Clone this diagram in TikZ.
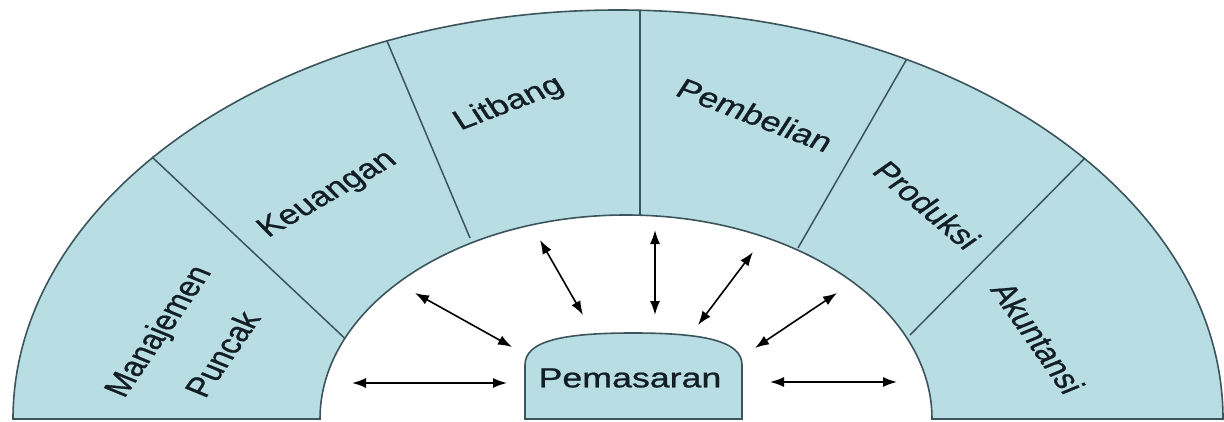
\documentclass[tikz,border=0pt]{standalone}
\usepackage{fontspec}
\setmainfont{Liberation Sans}
\newfontfamily\lblfont[FakeBold=0.8]{Liberation Sans}
\usetikzlibrary{arrows.meta}
\definecolor{ringfill}{RGB}{184,222,228}
\definecolor{ringline}{RGB}{60,85,92}
\definecolor{txt}{RGB}{18,30,36}
\begin{document}
\begin{tikzpicture}[x=1pt,y=1pt,
  ring/.style={fill=ringfill, draw=ringline, line width=1.6pt},
  divider/.style={draw=ringline, line width=1.5pt},
  lbl/.style={text=txt, inner sep=0pt, font=\lblfont\fontsize{27.5}{33}\selectfont, transform shape},
  link/.style={draw=black, line width=1.6pt, {Latex[length=14pt,width=10pt]}-{Latex[length=14pt,width=10pt]}}]
\useasboundingbox (0,0) rectangle (1224,421);
% ring
\path[ring] (13,2) arc[start angle=180,end angle=0,x radius=605,y radius=409]
  -- (932,2) arc[start angle=0,end angle=180,x radius=306,y radius=204] -- cycle;
% dividers
\coordinate (d1o) at (152,264); \coordinate (d1i) at (345,82.5);
\coordinate (d2o) at (387,380); \coordinate (d2i) at (470,183);
\coordinate (d3o) at (640,411); \coordinate (d3i) at (640,206);
\coordinate (d4o) at (906.5,361.5); \coordinate (d4i) at (798,173);
\coordinate (d5o) at (1085,263); \coordinate (d5i) at (910,86);
\draw[divider] (d1o) -- (d1i);
\draw[divider] (d2o) -- (d2i);
\draw[divider] (d3o) -- (d3i);
\draw[divider] (d4o) -- (d4i);
\draw[divider] (d5o) -- (d5i);
% central box
\path[ring] (525,2) -- (525,56) .. controls (525,80) and (562,88) .. (633,88)
  .. controls (704,88) and (742,80) .. (742,56) -- (742,2) -- cycle;
% arrows
\coordinate (h1a) at (352,38); \coordinate (h1b) at (507,38);
\coordinate (a1a) at (415,128); \coordinate (a1b) at (512,74);
\coordinate (a2a) at (540,181); \coordinate (a2b) at (583,106);
\coordinate (a3a) at (655,191); \coordinate (a3b) at (655,106);
\coordinate (a4a) at (753,169); \coordinate (a4b) at (698,96);
\coordinate (a5a) at (837,128); \coordinate (a5b) at (755,73);
\coordinate (h2a) at (770,39); \coordinate (h2b) at (897,39);
\draw[link] (h1a) -- (h1b);
\draw[link] (a1a) -- (a1b);
\draw[link] (a2a) -- (a2b);
\draw[link] (a3a) -- (a3b);
\draw[link] (a4a) -- (a4b);
\draw[link] (a5a) -- (a5b);
\draw[link] (h2a) -- (h2b);
% labels
\begin{scope}[xscale=1.3]
\node[lbl, rotate=62] (man) at (123.1,89) {Manajemen};
\node[lbl, rotate=62] (pun) at (170.8,67) {Puncak};
\node[lbl, rotate=37] (keu) at (252.3,226) {Keuangan};
\node[lbl, rotate=26.5] (lit) at (391.5,317) {Litbang};
\node[lbl, rotate=-26.5] (pemb) at (580.8,306) {Pembelian};
\node[lbl, rotate=-47.5] (pro) at (713.1,216) {Produksi};
\node[lbl, rotate=-61.7] (aku) at (798.5,83) {Akuntansi};
\node[lbl] (pem) at (484.6,43) {Pemasaran};
\end{scope}
\end{tikzpicture}
\end{document}
